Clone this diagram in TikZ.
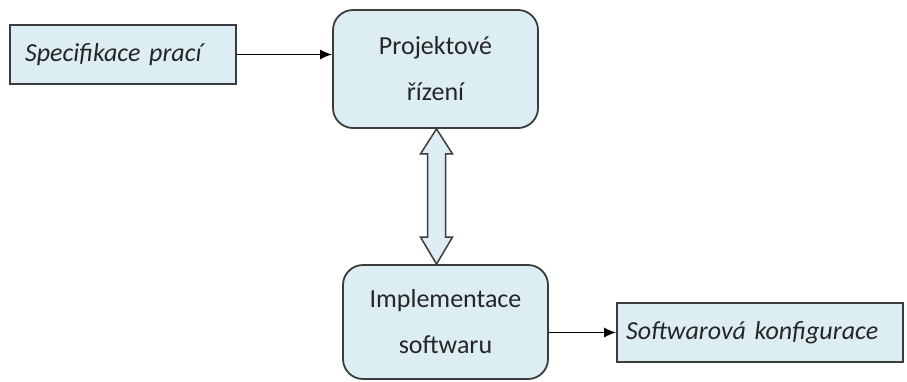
\documentclass[tikz,border=0pt]{standalone}
\usepackage{fontspec}
\setmainfont{Carlito}
\usepackage{tikz}
\usetikzlibrary{arrows,arrows.meta,calc}
\definecolor{boxfill}{HTML}{DCEDF3}
\definecolor{boxline}{HTML}{3C3C3C}
\definecolor{txt}{HTML}{262626}

\begin{document}
\begin{tikzpicture}[x=1pt,y=-1pt,
every node/.style={text=txt,font=\fontsize{26}{46}\selectfont},
docbox/.style={draw=boxline,line width=1.8pt,fill=boxfill,
inner sep=0pt,minimum height=59pt},
procbox/.style={draw=boxline,line width=1.8pt,fill=boxfill,
rounded corners=20pt,inner sep=0pt,align=center,minimum width=205pt},
link/.style={-{Latex[length=12pt,width=10pt]},line width=1.4pt,black},
dbl/.style={draw=boxline,line width=1.5pt,fill=boxfill}]
\useasboundingbox (0,0) rectangle (907,381);
\node[docbox,minimum width=226pt,text width=196pt,align=left] (spec) at (123,54.5) {\itshape Specifikace prací};
\node[procbox,minimum height=118pt] (proj) at (435.5,69) {Projektové\\řízení};
\node[procbox,minimum height=114pt] (impl) at (445.5,322) {Implementace\\softwaru};
\node[docbox,minimum width=286pt,text width=268pt,align=left] (konf) at (760,332.5) {\itshape Softwarová konfigurace};
\draw[link] (spec.east) -- (spec.east -| proj.west);
\draw[link] (impl.east |- konf.west) -- (konf.west);
% double arrow between the two processes
\draw[dbl] let \p1=(proj.south), \p2=(impl.north) in
(\x1+1,\y1) -- (\x1+17,\y1-25) -- (\x1+10,\y1-25) -- (\x1+10,\y2+27)
-- (\x1+17,\y2+27) -- (\x1+1,\y2) -- (\x1-15,\y2+27) -- (\x1-8,\y2+27)
-- (\x1-8,\y1-25) -- (\x1-15,\y1-25) -- cycle;
\end{tikzpicture}
\end{document}
